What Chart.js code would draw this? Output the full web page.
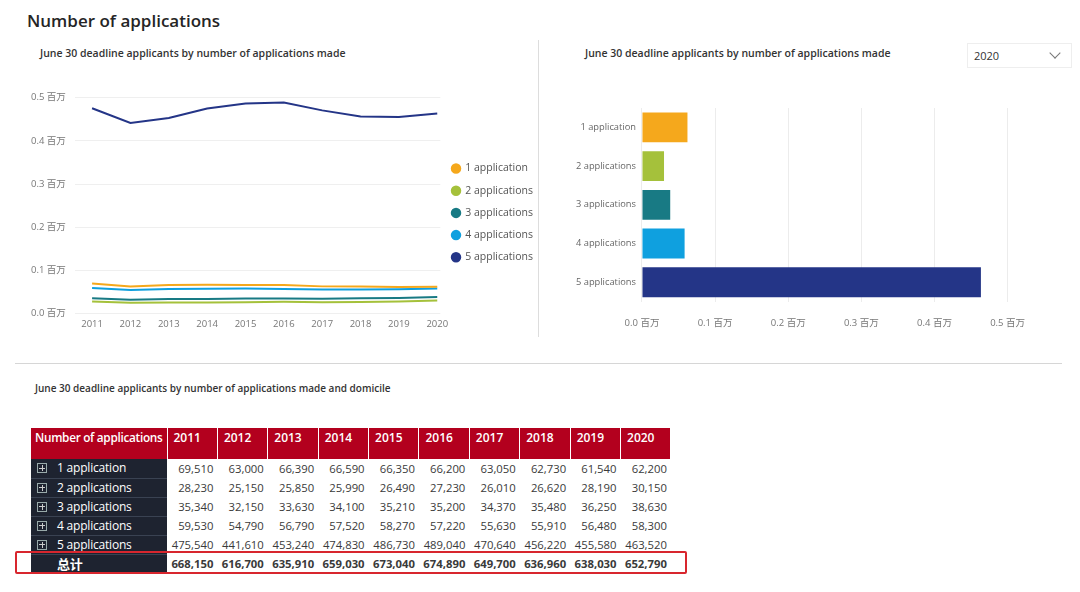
<!DOCTYPE html>
<html lang="en">
<head>
    <meta charset="UTF-8">
    <title>Number of applications</title>
    <script src="https://cdn.jsdelivr.net/npm/chart.js"></script>
    <style>
        body { margin: 0; width: 1080px; height: 592px; background: #fff; position: relative; overflow: hidden;
               font-family: 'Open Sans', 'Noto Sans CJK SC', sans-serif; color: #333; }
        .abs { position: absolute; }
        .main-title { left: 27px; top: 9px; font-size: 17px; font-weight: 600; color: #252525; }
        .sub-title { font-size: 10.5px; font-weight: 600; color: #333; }
        .vline { left: 538px; top: 40px; width: 1px; height: 297px; background: #ddd; }
        .hline { left: 15px; top: 363px; width: 1047px; height: 1px; background: #d6d6d6; }
        .dropdown { left: 967px; top: 43px; width: 103px; height: 23px; border: 1px solid #eee; font-size: 11px; }
        .dropdown span { position: absolute; left: 6px; top: 4px; }
        .dropdown i { position: absolute; right: 12px; top: 5px; width: 7px; height: 7px; border-right: 1px solid #777;
                      border-bottom: 1px solid #777; transform: rotate(45deg); }
        table { border-collapse: collapse; table-layout: fixed; width: 640px; left: 31px; top: 428px; }
        th { background: #b3001e; color: #fff; font-size: 12px; font-weight: 600; text-align: left; vertical-align: top;
             height: 30px; padding: 1px 0 0 6px; border-right: 1px solid rgba(255,255,255,0.22); white-space: nowrap;
             overflow: hidden; }
        th:first-child { padding-left: 4px; font-size: 11.8px; letter-spacing: -0.3px; }
        tr { height: 19px; }
        td { font-size: 11.3px; line-height: 16px; color: #3a3a3a; text-align: right; padding: 0 4px 0 0; white-space: nowrap; }
        td.rowhead { background: #1e2330; color: #fff; text-align: left; font-size: 12px; letter-spacing: -0.2px;
                     padding-left: 6px; border-bottom: 1px solid #3a4252; }
        td.rowhead b { display: inline-block; width: 8px; height: 8px; border: 1px solid #9aa; margin-right: 10px;
                       position: relative; top: 1px; }
        td.rowhead b::before { content: ''; position: absolute; left: 1px; top: 3.5px; width: 6px; height: 1px; background: #ccc; }
        td.rowhead b::after { content: ''; position: absolute; left: 3.5px; top: 1px; width: 1px; height: 6px; background: #ccc; }
        tr.total td { font-weight: 700; }
        tr.total td.rowhead { padding-left: 26px; font-size: 13px; border-bottom: none; }
        .outline { left: 15px; top: 551px; width: 668px; height: 19px; border: 2px solid #d8262e; border-radius: 2px; }
    </style>
</head>
<body>
    <div class="abs main-title">Number of applications</div>
    <div class="abs sub-title" style="left:40px;top:46px;">June 30 deadline applicants by number of applications made</div>
    <div class="abs sub-title" style="left:585px;top:46px;">June 30 deadline applicants by number of applications made</div>
    <div class="abs dropdown"><span>2020</span><i></i></div>
    <div class="abs vline"></div>
    <div class="abs hline"></div>

    <div class="abs" style="left:22px;top:83px;width:521px;height:252px;"><canvas id="lineChart"></canvas></div>
    <div class="abs" style="left:570px;top:95px;width:471px;height:250px;"><canvas id="barChart"></canvas></div>

    <div class="abs sub-title" style="left:35px;top:381px;font-size:10px;">June 30 deadline applicants by number of applications made and domicile</div>
    <table class="abs" id="dataTable"></table>
    <div class="abs outline"></div>

    <script>
        // Data (table values)
        const years = ['2011', '2012', '2013', '2014', '2015', '2016', '2017', '2018', '2019', '2020'];
        const categories = ['1 application', '2 applications', '3 applications', '4 applications', '5 applications'];
        const oneApp   = [69510, 63000, 66390, 66590, 66350, 66200, 63050, 62730, 61540, 62200];
        const twoApp   = [28230, 25150, 25850, 25990, 26490, 27230, 26010, 26620, 28190, 30150];
        const threeApp = [35340, 32150, 33630, 34100, 35210, 35200, 34370, 35480, 36250, 38630];
        const fourApp  = [59530, 54790, 56790, 57520, 58270, 57220, 55630, 55910, 56480, 58300];
        const fiveApp  = [475540, 441610, 453240, 474830, 486730, 489040, 470640, 456220, 455580, 463520];
        const totals   = [668150, 616700, 635910, 659030, 673040, 674890, 649700, 636960, 638030, 652790];
        const selectedYear = '2020';

        const colors = ['#f5a81c', '#a5c13b', '#187a84', '#0fa0df', '#243587'];
        const series = [oneApp, twoApp, threeApp, fourApp, fiveApp];
        const fontFamily = "'Open Sans', 'Noto Sans CJK SC', sans-serif";
        const fmtMillion = v => (v / 1e6).toFixed(1) + ' 百万';

        // Line chart (linear x so the year points sit where the original puts them)
        new Chart(document.getElementById('lineChart'), {
            type: 'line',
            data: {
                datasets: categories.map((c, i) => ({
                    label: c,
                    data: years.map((y, j) => ({ x: Number(y), y: series[i][j] })),
                    borderColor: colors[i],
                    backgroundColor: colors[i],
                    borderWidth: 2,
                    pointRadius: 0,
                    tension: 0
                }))
            },
            options: {
                responsive: true,
                maintainAspectRatio: false,
                animation: false,
                layout: { padding: { top: 2, right: 0, bottom: 0, left: 0 } },
                scales: {
                    x: {
                        type: 'linear',
                        min: 2010.55, max: 2020.08,
                        grid: { display: false, drawTicks: false },
                        border: { display: false },
                        ticks: { stepSize: 1, includeBounds: false, callback: v => String(v), color: '#777',
                                 font: { family: fontFamily, size: 9.5 }, maxRotation: 0, autoSkip: false, padding: 5 }
                    },
                    y: {
                        min: 0, max: 500000,
                        ticks: { stepSize: 100000, callback: fmtMillion, color: '#777', font: { family: fontFamily, size: 9.5 }, padding: 9 },
                        grid: { color: '#efefef', drawTicks: false },
                        border: { display: false }
                    }
                },
                plugins: {
                    legend: {
                        position: 'right',
                        // empty title only pushes the centred items down a little
                        title: { display: true, text: '', font: { size: 4 }, padding: { top: 0, bottom: 1 } },
                        labels: {
                            usePointStyle: true, pointStyle: 'circle', boxWidth: 8, boxHeight: 6,
                            padding: 11.7, color: '#555', font: { family: fontFamily, size: 10.5 }
                        }
                    },
                    tooltip: { enabled: false }
                }
            }
        });

        // Horizontal bar chart for the selected year
        const yi = years.indexOf(selectedYear);
        new Chart(document.getElementById('barChart'), {
            type: 'bar',
            data: {
                labels: categories,
                datasets: [{
                    data: series.map(s => s[yi]),
                    backgroundColor: colors,
                    barPercentage: 0.77,
                    categoryPercentage: 1
                }]
            },
            options: {
                indexAxis: 'y',
                responsive: true,
                maintainAspectRatio: false,
                animation: false,
                layout: { padding: { top: 13, right: 12, bottom: 0, left: 0 } },
                scales: {
                    x: {
                        min: 0, max: 500000,
                        ticks: { stepSize: 100000, callback: fmtMillion, color: '#777', font: { family: fontFamily, size: 9.5 }, padding: 16 },
                        grid: { color: '#ececec', drawTicks: false },
                        border: { display: false }
                    },
                    y: {
                        grid: { display: false, drawTicks: false },
                        border: { display: false },
                        ticks: { color: '#666', font: { family: fontFamily, size: 9.3 }, padding: 6 }
                    }
                },
                plugins: { legend: { display: false }, tooltip: { enabled: false } }
            }
        });

        // Table
        const fmt = n => n.toLocaleString('en-US');
        const table = document.getElementById('dataTable');
        let html = '<colgroup><col style="width:136px">' + years.map(() => '<col style="width:50.4px">').join('') + '</colgroup>';
        html += '<tr><th>Number of applications</th>' + years.map(y => `<th>${y}</th>`).join('') + '</tr>';
        categories.forEach((c, i) => {
            html += `<tr><td class="rowhead"><b></b>${c}</td>` + series[i].map(v => `<td>${fmt(v)}</td>`).join('') + '</tr>';
        });
        html += '<tr class="total"><td class="rowhead">总计</td>' + totals.map(v => `<td>${fmt(v)}</td>`).join('') + '</tr>';
        table.innerHTML = html;
    </script>
</body>
</html>
